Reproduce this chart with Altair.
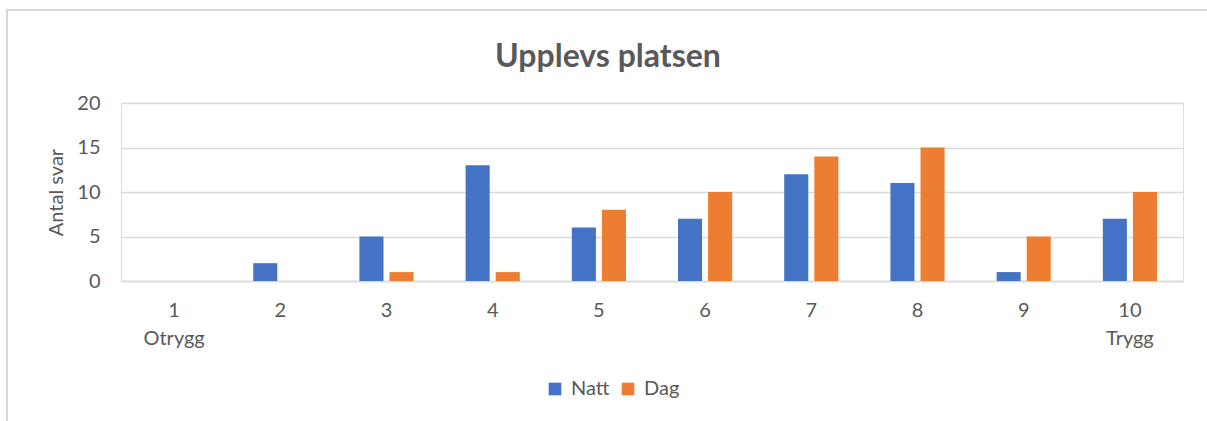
import altair as alt
import pandas as pd

# Response scale 1 (Otrygg) .. 10 (Trygg)
categories = ["1", "2", "3", "4", "5", "6", "7", "8", "9", "10"]
natt = [0, 2, 5, 13, 6, 7, 12, 11, 1, 7]
dag = [0, 0, 1, 1, 8, 10, 14, 15, 5, 10]
series = ["Natt", "Dag"]
colors = ["#4472C4", "#ED7D31"]
title_text = "Upplevs platsen"

rows = []
for c, n, d in zip(categories, natt, dag):
    rows.append({"kategori": c, "serie": "Natt", "antal": n})
    rows.append({"kategori": c, "serie": "Dag", "antal": d})
df = pd.DataFrame(rows)

FONT = "Lato"
GRAY = "#595959"
W, H = 1062, 178

label_expr = (
    "datum.value == '1' ? ['1', 'Otrygg'] : "
    "datum.value == '10' ? ['10', 'Trygg'] : datum.value"
)

bars = alt.Chart(df).mark_bar().encode(
    x=alt.X(
        "kategori:N",
        sort=categories,
        title=None,
        scale=alt.Scale(paddingInner=0.49, paddingOuter=0.245),
        axis=alt.Axis(
            labelAngle=0,
            labelExpr=label_expr,
            labelFont=FONT,
            labelFontSize=20,
            labelColor=GRAY,
            labelPadding=19,
            labelLineHeight=28,
            labelBaseline="top",
            ticks=False,
            domainColor="#D9D9D9",
            domainWidth=1.5,
            grid=False,
        ),
    ),
    xOffset=alt.XOffset(
        "serie:N",
        sort=series,
        scale=alt.Scale(paddingInner=0.2, paddingOuter=0),
    ),
    y=alt.Y(
        "antal:Q",
        title="Antal svar",
        scale=alt.Scale(domain=[0, 20], nice=False),
        axis=alt.Axis(
            values=[0, 5, 10, 15, 20],
            labelFont=FONT,
            labelFontSize=20,
            labelColor=GRAY,
            labelPadding=21,
            ticks=False,
            domain=False,
            gridColor="#D9D9D9",
            gridWidth=1.5,
            titleFont=FONT,
            titleFontSize=20,
            titleFontWeight="normal",
            titleColor=GRAY,
            titlePadding=10,
        ),
    ),
    color=alt.Color(
        "serie:N",
        sort=series,
        scale=alt.Scale(domain=series, range=colors),
        legend=alt.Legend(
            title=None,
            orient="none",
            direction="horizontal",
            legendX=424,
            legendY=276,
            symbolType="square",
            symbolSize=160,
            symbolStrokeWidth=0,
            labelFont=FONT,
            labelFontSize=20,
            labelColor=GRAY,
            columnPadding=8,
            labelOffset=6,
        ),
    ),
)

# light frame around the whole chart
frame = alt.Chart(df).mark_rect(
    fill=None, stroke="#D9D9D9", strokeWidth=2
).encode(
    x=alt.value(-114), x2=alt.value(1090),
    y=alt.value(-93), y2=alt.value(330),
)

# chart heading, centred over the frame
heading = alt.Chart(pd.DataFrame({"t": [title_text]})).mark_text(
    font=FONT, fontSize=32, fontWeight="bold", color=GRAY,
    align="center", baseline="alphabetic",
).encode(
    text="t:N",
    x=alt.value(487),
    y=alt.value(-36),
)

chart = alt.layer(frame, bars, heading).properties(
    width=W,
    height=H,
    padding={"left": 121, "top": 103, "right": 24, "bottom": 140},
    autosize=alt.AutoSizeParams(type="none"),
).configure_view(stroke=None).configure(background="white")

chart.save("out.html", embed_options={"renderer": "svg", "actions": False})
